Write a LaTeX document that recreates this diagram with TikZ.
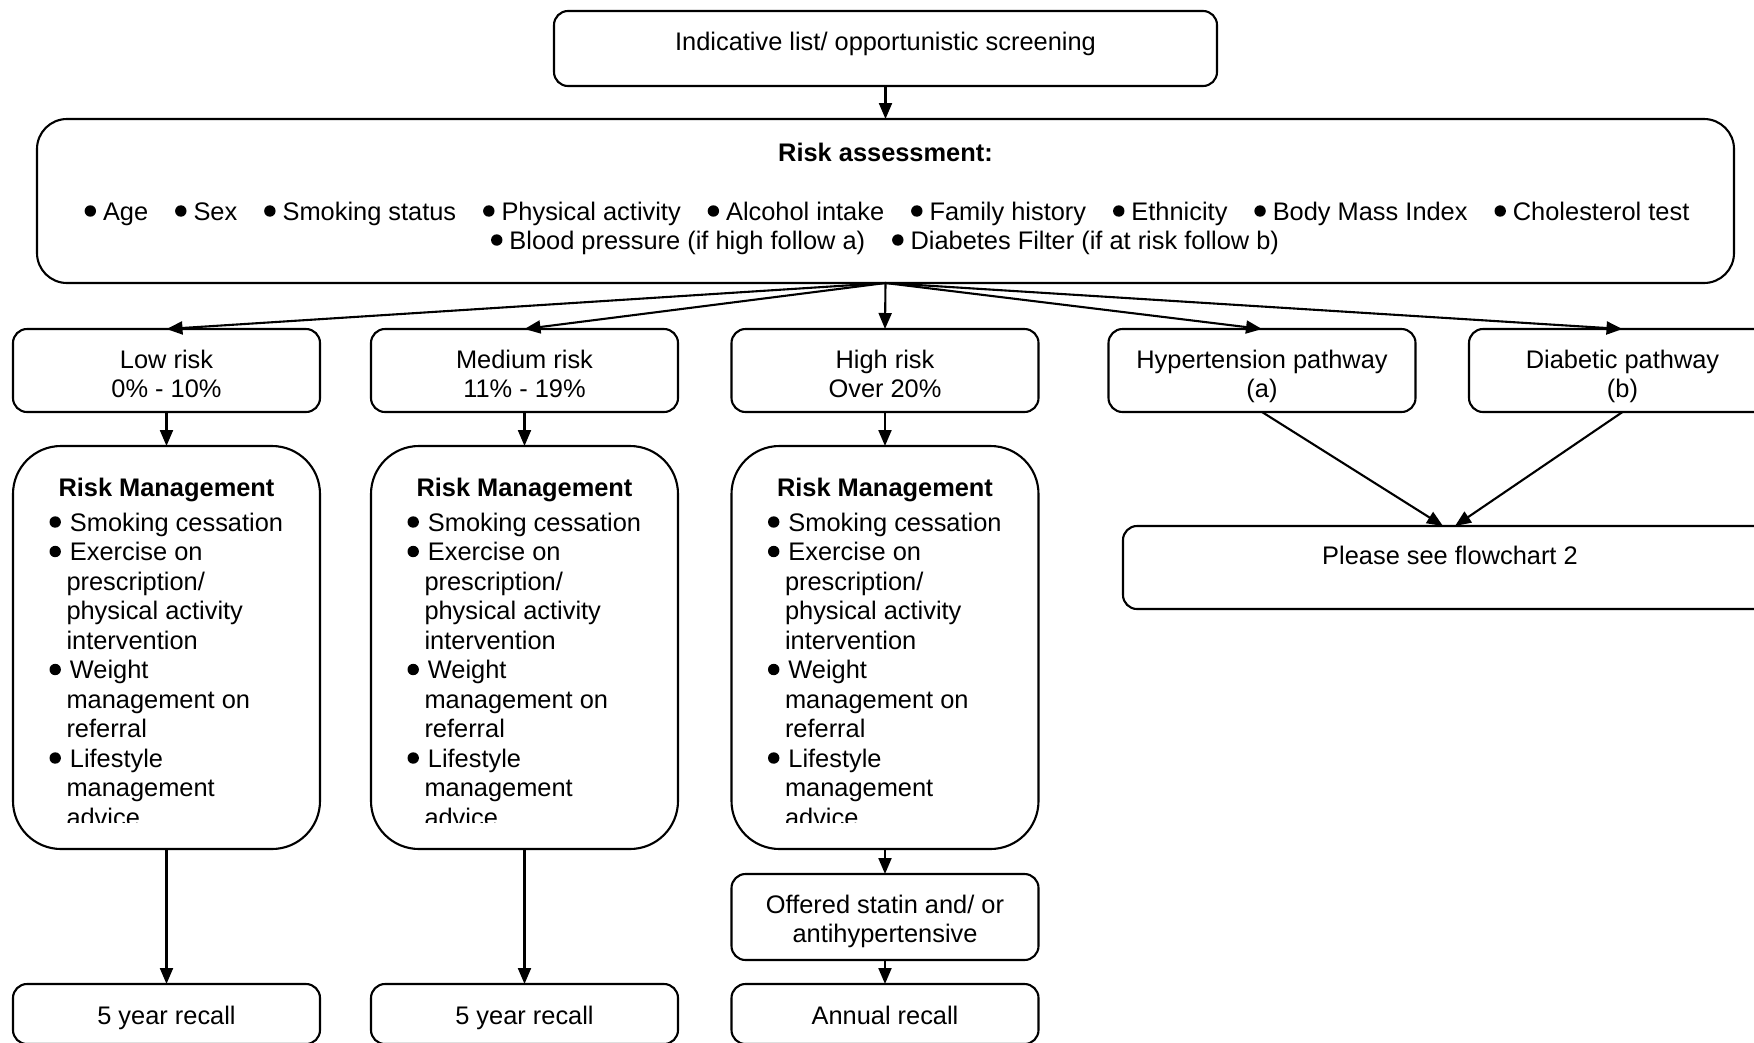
\documentclass[tikz,border=0pt]{standalone}
\usepackage{fontspec}
\setmainfont{Liberation Sans}
\usetikzlibrary{arrows.meta}
\newcommand\bul{\tikz[baseline=0pt]\fill (5.5pt,9pt) circle[radius=5.7pt];}
\newcommand\rsep{\hspace{26.9pt}}
\newcommand\bsep{\hspace{7pt}}
\tikzset{
  box/.style={draw, line width=2.1pt, rounded corners=14pt, inner sep=0pt, outer sep=0pt, minimum width=307pt, minimum height=83pt},
  rmbox/.style={box, rounded corners=48pt, minimum height=403pt},
  arr/.style={-{Triangle[length=16pt,width=13pt]}, line width=2.1pt},
  txt/.style={inner sep=0pt, outer sep=0pt, font=\fontsize{25.4pt}{29.5pt}\selectfont},
  txtb/.style={inner sep=0pt, outer sep=0pt, font=\fontsize{25.4pt}{29.5pt}\selectfont\bfseries},
}
\newcommand\rmblock[2]{%
  \node[txtb,anchor=base] (#2-title) at (#1+153.5,496) {Risk Management};
  \begin{scope}
    \clip (#1,446) rectangle (#1+307,822);
    \node[txt,anchor=base west] (#2-1) at (#1+36.5,531) {\bul\hspace{9pt}Smoking cessation};
    \node[txt,anchor=base west] (#2-2) at (#1+36.5,560.5) {\bul\hspace{9pt}Exercise on};
    \node[txt,anchor=base west] (#2-3) at (#1+53.5,590) {prescription/};
    \node[txt,anchor=base west] (#2-4) at (#1+53.5,619.5) {physical activity};
    \node[txt,anchor=base west] (#2-5) at (#1+53.5,649) {intervention};
    \node[txt,anchor=base west] (#2-6) at (#1+36.5,678.5) {\bul\hspace{9pt}Weight};
    \node[txt,anchor=base west] (#2-7) at (#1+53.5,708) {management on};
    \node[txt,anchor=base west] (#2-8) at (#1+53.5,737.5) {referral};
    \node[txt,anchor=base west] (#2-9) at (#1+36.5,767) {\bul\hspace{9pt}Lifestyle};
    \node[txt,anchor=base west] (#2-10) at (#1+53.5,796.5) {management};
    \node[txt,anchor=base west] (#2-11) at (#1+53.5,826) {advice};
  \end{scope}
}
\begin{document}
\begin{tikzpicture}[x=1pt,y=-1pt]
\useasboundingbox[fill=white] (0,0) rectangle (1754,1042);

% boxes
\node[box, minimum width=663pt, minimum height=75pt] (top) at (885.5,48.5) {};
\node[box, rounded corners=30pt, minimum width=1697pt, minimum height=164pt] (ra) at (885.5,201) {};
\node[box] (low) at (166.5,370.5) {};
\node[box] (med) at (524.5,370.5) {};
\node[box] (high) at (885,370.5) {};
\node[box] (hyp) at (1262,370.5) {};
\node[box] (dia) at (1622.5,370.5) {};
\node[rmbox] (lowrm) at (166.5,647.5) {};
\node[rmbox] (medrm) at (524.5,647.5) {};
\node[rmbox] (highrm) at (885,647.5) {};
\node[box, minimum width=654pt] (fc) at (1450,567.5) {};
\node[box, minimum height=86pt] (off) at (885,917) {};
\node[box, minimum height=60pt] (lowrc) at (166.5,1014) {};
\node[box, minimum height=60pt] (medrc) at (524.5,1014) {};
\node[box, minimum height=60pt] (annual) at (885,1014) {};

% texts
\node[txt,anchor=base] (topt) at (885.5,50) {Indicative list/ opportunistic screening};
\node[txtb,anchor=base] (rat) at (885.5,161) {Risk assessment:};
\node[txt,anchor=base] (ra1) at (887,220) {\bul\bsep Age\rsep\bul\bsep Sex\rsep\bul\bsep Smoking status\rsep\bul\bsep Physical activity\rsep\bul\bsep Alcohol intake\rsep\bul\bsep Family history\rsep\bul\bsep Ethnicity\rsep\bul\bsep Body Mass Index\rsep\bul\bsep Cholesterol test};
\node[txt,anchor=base] (ra2) at (885,249) {\bul\bsep Blood pressure (if high follow a)\rsep\bul\bsep Diabetes Filter (if at risk follow b)};

\node[txt,anchor=base] (lowt1) at (166.5,368) {Low risk};
\node[txt,anchor=base] (lowt2) at (166.5,397) {0\% - 10\%};
\node[txt,anchor=base] (medt1) at (524.5,368) {Medium risk};
\node[txt,anchor=base] (medt2) at (524.5,397) {11\% - 19\%};
\node[txt,anchor=base] (hight1) at (885,368) {High risk};
\node[txt,anchor=base] (hight2) at (885,397) {Over 20\%};
\node[txt,anchor=base] (hypt1) at (1262,368) {Hypertension pathway};
\node[txt,anchor=base] (hypt2) at (1262,397) {(a)};
\node[txt,anchor=base] (diat1) at (1622.5,368) {Diabetic pathway};
\node[txt,anchor=base] (diat2) at (1622.5,397) {(b)};

\rmblock{13}{lo}
\rmblock{371}{me}
\rmblock{731.5}{hi}

\node[txt,anchor=base] (fct) at (1450,564) {Please see flowchart 2};
\node[txt,anchor=base] (offt1) at (885,913) {Offered statin and/ or};
\node[txt,anchor=base] (offt2) at (885,942) {antihypertensive};
\node[txt,anchor=base] (lowrct) at (166.5,1024) {5 year recall};
\node[txt,anchor=base] (medrct) at (524.5,1024) {5 year recall};
\node[txt,anchor=base] (annualt) at (885,1024) {Annual recall};

% connectors
\draw[arr] (top.south) -- (ra.north);
\draw[arr] (ra.south) -- (low.north);
\draw[arr] (ra.south) -- (med.north);
\draw[arr] (ra.south) -- (high.north);
\draw[arr] (ra.south) -- (hyp.north);
\draw[arr] (ra.south) -- (dia.north);
\draw[arr] (low.south) -- (lowrm.north);
\draw[arr] (med.south) -- (medrm.north);
\draw[arr] (high.south) -- (highrm.north);
\draw[arr] (lowrm.south) -- (lowrc.north);
\draw[arr] (medrm.south) -- (medrc.north);
\draw[arr] (highrm.south) -- (off.north);
\draw[arr] (off.south) -- (annual.north);
\draw[arr] (hyp.south) -- ([xshift=-7pt]fc.north);
\draw[arr] (dia.south) -- ([xshift=5pt]fc.north);
\end{tikzpicture}
\end{document}
